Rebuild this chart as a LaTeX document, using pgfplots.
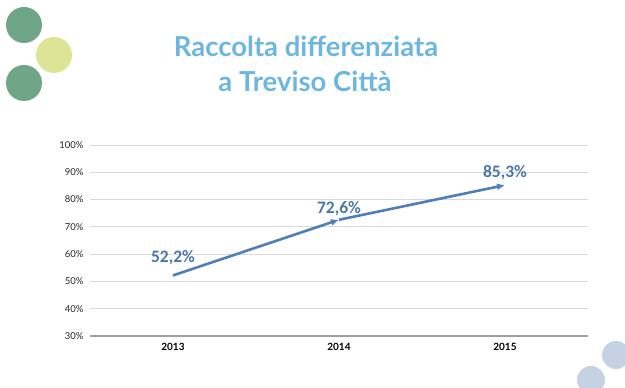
\documentclass[border=0pt]{standalone}
\usepackage{pgfplots}
\pgfplotsset{compat=1.18}
\usepackage{fontspec}
\setmainfont{Lato}
\newfontfamily\carlito{Carlito}
\usetikzlibrary{arrows.meta}
\definecolor{titleblue}{RGB}{108,182,224}
\definecolor{lineblue}{RGB}{79,126,184}
\definecolor{labelblue}{RGB}{74,118,168}
\definecolor{dgreen}{RGB}{111,166,135}
\definecolor{dyellow}{RGB}{221,228,150}
\definecolor{cblue}{RGB}{196,210,228}
\begin{document}
\begin{tikzpicture}
\path[use as bounding box] (0pt,0pt) rectangle (625pt,388pt);
% decorations
\fill[dgreen] (24pt,363pt) circle (18pt);
\fill[dyellow] (54pt,333pt) circle (18pt);
\fill[dgreen] (24pt,305pt) circle (18pt);
\fill[cblue] (616pt,33pt) circle (14pt);
\fill[cblue] (591pt,8pt) circle (14pt);
% title
\node[font=\fontsize{27.5}{30}\selectfont\bfseries, text=titleblue, anchor=base] at (306pt,331pt) {Raccolta differenziata};
\node[font=\fontsize{27.5}{30}\selectfont\bfseries, text=titleblue, anchor=base] at (305pt,296pt) {a Treviso Città};
\begin{axis}[
  at={(90pt,52pt)}, anchor=south west,
  scale only axis, width=498pt, height=191pt,
  xmin=-0.5, xmax=2.5, ymin=30, ymax=100,
  xtick={0,1,2}, xticklabels={2013,2014,2015},
  ytick={30,40,...,100},
  yticklabel={\pgfmathprintnumber{\tick}\%},
  /pgf/number format/assume math mode=true,
  major tick length=0pt,
  axis lines*=left,
  x axis line style={gray!75, line width=1.2pt, -},
  y axis line style={draw=none},
  ymajorgrids, grid style={gray!30, line width=0.8pt},
  yticklabel style={font=\fontsize{9.5}{10}\selectfont, text=black!85, xshift=-3pt},
  xticklabel style={font=\fontsize{10}{11}\selectfont\bfseries, text=black, yshift=-4pt},
  clip=false,
  lbl/.style={draw=none, mark=none,
    nodes near coords={\pgfmathprintnumber[use comma,fixed,fixed zerofill,precision=1]{\pgfplotspointmeta}\%},
    every node near coord/.append style={font=\carlito\fontsize{17.5}{19}\selectfont\bfseries, text=labelblue, anchor=base, yshift=#1}},
]
\addplot[lineblue, line width=2.6pt, -{Latex[length=8pt,width=7pt]}] coordinates {(0,52.2) (1,72.6)};
\addplot[lineblue, line width=2.6pt, -{Latex[length=8pt,width=7pt]}] coordinates {(1,72.6) (2,85.3)};
\addplot[lbl=12.5pt] coordinates {(0,52.2)};
\addplot[lbl=6.5pt] coordinates {(1,72.6)};
\addplot[lbl=7.5pt] coordinates {(2,85.3)};
\end{axis}
\end{tikzpicture}
\end{document}
